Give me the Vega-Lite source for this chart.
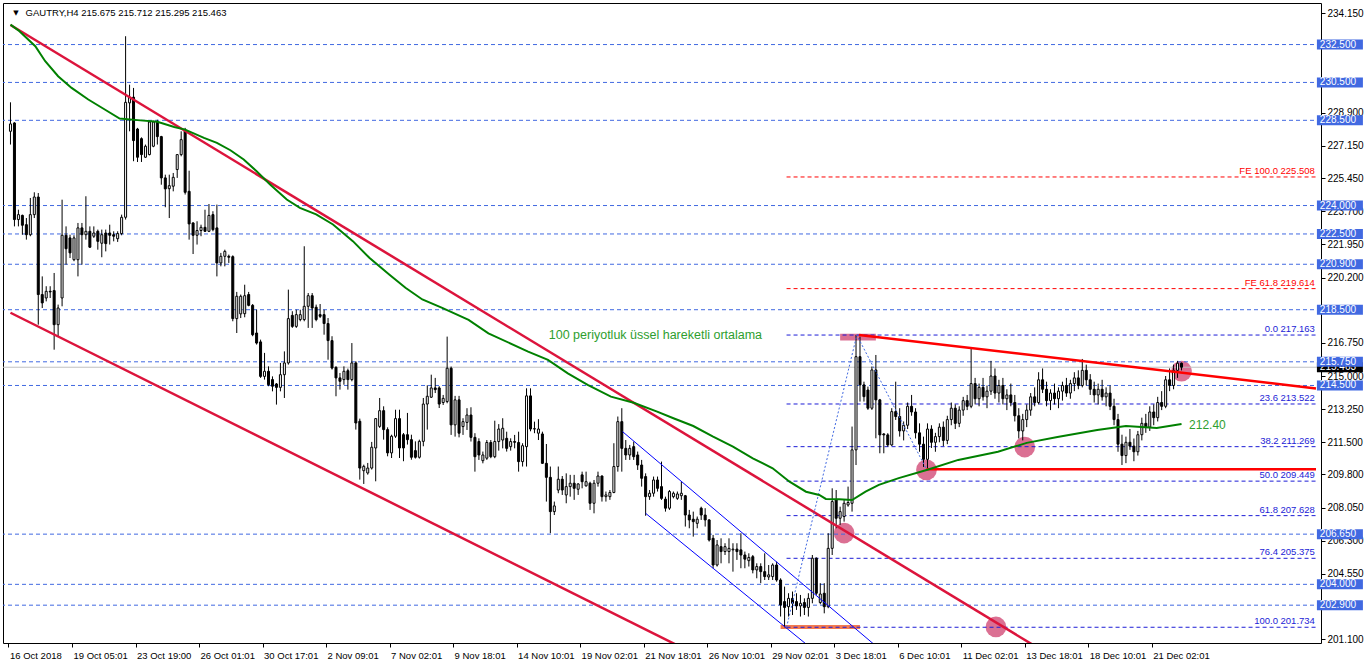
{
"$schema": "https://vega.github.io/schema/vega-lite/v6.json",
"width": 1318, "height": 640,
"autosize": {"type": "none"},
"padding": {"left": 3, "top": 3, "right": 45, "bottom": 22},
"background": "white",
"config": {
  "view": {"stroke": "black", "strokeWidth": 1},
  "axis": {"grid": false, "domain": false, "labelFont": "Liberation Sans", "labelColor": "black", "tickColor": "black", "titleOpacity": 0},
  "text": {"font": "Liberation Sans"}
},
"datasets": {
  "candles": [
{"i":0,"o":227.92,"h":229.45,"l":227.22,"c":228.31},
{"i":1,"o":228.36,"h":228.40,"l":222.90,"c":223.26},
{"i":2,"o":223.26,"h":223.78,"l":222.90,"c":223.52},
{"i":3,"o":223.48,"h":223.52,"l":222.46,"c":222.96},
{"i":4,"o":222.99,"h":223.34,"l":222.20,"c":222.46},
{"i":5,"o":222.46,"h":224.40,"l":222.38,"c":223.52},
{"i":6,"o":223.52,"h":224.70,"l":223.34,"c":224.45},
{"i":7,"o":224.45,"h":224.66,"l":217.71,"c":219.30},
{"i":8,"o":219.30,"h":220.26,"l":218.59,"c":218.86},
{"i":9,"o":219.12,"h":219.74,"l":218.94,"c":219.47},
{"i":10,"o":219.47,"h":219.74,"l":219.12,"c":219.44},
{"i":11,"o":219.51,"h":220.44,"l":216.39,"c":217.71},
{"i":12,"o":217.71,"h":218.77,"l":217.10,"c":218.59},
{"i":13,"o":219.12,"h":224.31,"l":218.68,"c":222.43},
{"i":14,"o":222.43,"h":222.90,"l":220.88,"c":221.72},
{"i":15,"o":222.29,"h":222.46,"l":221.23,"c":221.50},
{"i":16,"o":221.14,"h":222.43,"l":221.06,"c":222.29},
{"i":17,"o":221.14,"h":223.08,"l":220.26,"c":222.82},
{"i":18,"o":222.82,"h":223.08,"l":220.88,"c":222.46},
{"i":19,"o":222.46,"h":224.49,"l":222.20,"c":222.64},
{"i":20,"o":222.64,"h":222.90,"l":221.76,"c":221.80},
{"i":21,"o":222.38,"h":222.90,"l":222.29,"c":222.55},
{"i":22,"o":222.64,"h":222.73,"l":221.67,"c":222.11},
{"i":23,"o":222.01,"h":222.73,"l":221.27,"c":222.46},
{"i":24,"o":222.55,"h":222.73,"l":221.58,"c":221.99},
{"i":25,"o":222.55,"h":222.99,"l":221.94,"c":222.43},
{"i":26,"o":222.46,"h":222.64,"l":222.11,"c":222.38},
{"i":27,"o":222.25,"h":222.64,"l":222.08,"c":222.52},
{"i":28,"o":222.52,"h":223.52,"l":222.43,"c":223.38},
{"i":29,"o":223.38,"h":232.94,"l":223.26,"c":229.45},
{"i":30,"o":229.42,"h":230.38,"l":227.92,"c":229.72},
{"i":31,"o":229.72,"h":230.21,"l":226.34,"c":227.43},
{"i":32,"o":228.04,"h":228.10,"l":226.30,"c":226.55},
{"i":33,"o":227.53,"h":227.60,"l":226.30,"c":226.69},
{"i":34,"o":226.55,"h":227.22,"l":226.51,"c":227.13},
{"i":35,"o":226.69,"h":228.48,"l":226.65,"c":228.41},
{"i":36,"o":227.13,"h":228.48,"l":227.08,"c":228.41},
{"i":37,"o":228.41,"h":228.53,"l":227.22,"c":227.64},
{"i":38,"o":227.64,"h":227.68,"l":225.10,"c":225.46},
{"i":39,"o":225.46,"h":225.63,"l":223.91,"c":224.88},
{"i":40,"o":224.89,"h":225.63,"l":223.34,"c":225.05},
{"i":41,"o":225.02,"h":225.72,"l":224.75,"c":225.49},
{"i":42,"o":225.90,"h":226.72,"l":225.46,"c":226.69},
{"i":43,"o":226.69,"h":227.92,"l":226.60,"c":227.48},
{"i":44,"o":227.96,"h":228.10,"l":224.58,"c":224.70},
{"i":45,"o":224.75,"h":225.84,"l":222.20,"c":223.03},
{"i":46,"o":223.08,"h":223.12,"l":221.44,"c":222.43},
{"i":47,"o":222.43,"h":223.17,"l":221.94,"c":222.68},
{"i":48,"o":222.68,"h":222.99,"l":222.38,"c":222.85},
{"i":49,"o":222.85,"h":223.78,"l":222.61,"c":222.64},
{"i":50,"o":222.64,"h":224.08,"l":222.60,"c":223.48},
{"i":51,"o":223.52,"h":223.70,"l":222.64,"c":222.73},
{"i":52,"o":222.82,"h":224.05,"l":220.26,"c":220.97},
{"i":53,"o":220.97,"h":221.50,"l":220.79,"c":221.32},
{"i":54,"o":221.32,"h":221.67,"l":220.79,"c":221.58},
{"i":55,"o":221.32,"h":221.41,"l":220.97,"c":221.27},
{"i":56,"o":221.30,"h":221.37,"l":217.89,"c":218.03},
{"i":57,"o":218.03,"h":219.44,"l":217.27,"c":219.21},
{"i":58,"o":218.28,"h":219.30,"l":218.06,"c":219.21},
{"i":59,"o":218.29,"h":219.82,"l":218.10,"c":219.24},
{"i":60,"o":219.30,"h":219.44,"l":218.68,"c":218.73},
{"i":61,"o":218.73,"h":218.80,"l":217.10,"c":217.18},
{"i":62,"o":217.27,"h":218.50,"l":216.66,"c":216.74},
{"i":63,"o":216.80,"h":216.92,"l":214.90,"c":214.98},
{"i":64,"o":214.98,"h":216.22,"l":214.81,"c":215.25},
{"i":65,"o":215.25,"h":215.51,"l":214.46,"c":214.54},
{"i":66,"o":214.81,"h":214.98,"l":214.19,"c":214.46},
{"i":67,"o":214.58,"h":214.63,"l":213.49,"c":214.40},
{"i":68,"o":214.40,"h":215.69,"l":214.19,"c":215.07},
{"i":69,"o":215.07,"h":216.30,"l":213.84,"c":215.69},
{"i":70,"o":215.69,"h":219.56,"l":215.60,"c":218.03},
{"i":71,"o":218.20,"h":218.42,"l":217.54,"c":217.62},
{"i":72,"o":217.62,"h":218.50,"l":217.54,"c":218.24},
{"i":73,"o":217.98,"h":218.50,"l":217.89,"c":218.24},
{"i":74,"o":217.98,"h":221.85,"l":217.89,"c":218.68},
{"i":75,"o":218.68,"h":219.38,"l":217.54,"c":219.24},
{"i":76,"o":219.24,"h":219.38,"l":217.54,"c":218.59},
{"i":77,"o":218.63,"h":218.77,"l":217.89,"c":217.98},
{"i":78,"o":218.24,"h":218.80,"l":218.06,"c":218.15},
{"i":79,"o":218.24,"h":218.50,"l":217.18,"c":217.77},
{"i":80,"o":217.77,"h":218.06,"l":215.86,"c":216.87},
{"i":81,"o":216.87,"h":217.10,"l":215.34,"c":215.42},
{"i":82,"o":215.46,"h":215.51,"l":213.93,"c":214.90},
{"i":83,"o":214.90,"h":215.16,"l":214.28,"c":214.72},
{"i":84,"o":214.81,"h":215.51,"l":214.54,"c":215.25},
{"i":85,"o":215.28,"h":215.39,"l":214.28,"c":214.81},
{"i":86,"o":214.81,"h":216.74,"l":214.72,"c":215.69},
{"i":87,"o":215.69,"h":215.78,"l":212.17,"c":212.52},
{"i":88,"o":212.61,"h":212.75,"l":209.53,"c":210.14},
{"i":89,"o":210.00,"h":210.32,"l":209.30,"c":210.23},
{"i":90,"o":209.88,"h":210.41,"l":209.79,"c":210.14},
{"i":91,"o":210.14,"h":211.52,"l":210.06,"c":211.24},
{"i":92,"o":211.20,"h":212.78,"l":209.44,"c":212.75},
{"i":93,"o":212.34,"h":213.84,"l":212.26,"c":213.17},
{"i":94,"o":213.17,"h":213.40,"l":211.64,"c":212.17},
{"i":95,"o":212.17,"h":212.29,"l":210.76,"c":210.94},
{"i":96,"o":210.94,"h":211.90,"l":210.67,"c":211.82},
{"i":97,"o":211.82,"h":213.22,"l":211.73,"c":212.75},
{"i":98,"o":212.75,"h":213.22,"l":210.67,"c":211.20},
{"i":99,"o":211.90,"h":211.99,"l":210.50,"c":211.20},
{"i":100,"o":211.90,"h":213.05,"l":211.38,"c":211.64},
{"i":101,"o":211.64,"h":211.90,"l":210.58,"c":210.71},
{"i":102,"o":211.06,"h":211.55,"l":210.64,"c":210.71},
{"i":103,"o":210.71,"h":211.64,"l":210.64,"c":211.55},
{"i":104,"o":211.55,"h":213.84,"l":211.29,"c":213.52},
{"i":105,"o":213.52,"h":214.51,"l":212.17,"c":213.93},
{"i":106,"o":213.88,"h":215.07,"l":213.84,"c":214.37},
{"i":107,"o":214.37,"h":214.90,"l":214.10,"c":214.28},
{"i":108,"o":214.37,"h":214.46,"l":213.31,"c":213.52},
{"i":109,"o":213.60,"h":214.00,"l":213.47,"c":213.82},
{"i":110,"o":213.65,"h":217.08,"l":213.56,"c":215.41},
{"i":111,"o":215.41,"h":215.50,"l":211.89,"c":212.42},
{"i":112,"o":212.42,"h":213.95,"l":211.80,"c":213.74},
{"i":113,"o":213.74,"h":213.95,"l":211.76,"c":211.98},
{"i":114,"o":212.33,"h":212.77,"l":211.89,"c":212.59},
{"i":115,"o":212.55,"h":213.30,"l":212.15,"c":212.94},
{"i":116,"o":212.94,"h":213.35,"l":211.54,"c":211.76},
{"i":117,"o":211.76,"h":211.98,"l":209.95,"c":210.74},
{"i":118,"o":211.54,"h":211.71,"l":210.57,"c":210.83},
{"i":119,"o":210.53,"h":211.01,"l":210.39,"c":210.83},
{"i":120,"o":210.66,"h":211.62,"l":210.57,"c":211.49},
{"i":121,"o":211.49,"h":211.62,"l":210.66,"c":210.74},
{"i":122,"o":210.74,"h":212.64,"l":210.66,"c":211.54},
{"i":123,"o":211.54,"h":212.46,"l":211.06,"c":212.20},
{"i":124,"o":211.62,"h":212.77,"l":211.18,"c":212.24},
{"i":125,"o":211.71,"h":212.06,"l":211.01,"c":211.18},
{"i":126,"o":211.27,"h":211.71,"l":211.06,"c":211.54},
{"i":127,"o":211.54,"h":211.89,"l":211.18,"c":211.50},
{"i":128,"o":211.49,"h":212.06,"l":209.95,"c":210.48},
{"i":129,"o":210.48,"h":211.45,"l":210.22,"c":211.32},
{"i":130,"o":211.27,"h":214.35,"l":210.22,"c":213.95},
{"i":131,"o":213.95,"h":214.35,"l":212.08,"c":212.20},
{"i":132,"o":212.20,"h":212.59,"l":211.98,"c":212.22},
{"i":133,"o":211.98,"h":212.72,"l":211.62,"c":212.20},
{"i":134,"o":211.94,"h":212.06,"l":210.36,"c":210.39},
{"i":135,"o":210.39,"h":211.41,"l":208.37,"c":209.65},
{"i":136,"o":209.65,"h":210.22,"l":206.70,"c":207.84},
{"i":137,"o":207.84,"h":208.37,"l":207.66,"c":208.14},
{"i":138,"o":208.98,"h":210.22,"l":208.81,"c":209.55},
{"i":139,"o":209.55,"h":209.72,"l":208.72,"c":208.98},
{"i":140,"o":208.72,"h":209.86,"l":208.28,"c":209.16},
{"i":141,"o":209.16,"h":209.78,"l":208.63,"c":209.34},
{"i":142,"o":209.34,"h":209.78,"l":208.46,"c":209.07},
{"i":143,"o":209.02,"h":209.34,"l":208.72,"c":209.30},
{"i":144,"o":209.78,"h":209.95,"l":209.07,"c":209.42},
{"i":145,"o":209.20,"h":209.95,"l":209.16,"c":209.42},
{"i":146,"o":209.34,"h":209.42,"l":207.93,"c":208.28},
{"i":147,"o":208.28,"h":209.51,"l":207.75,"c":209.34},
{"i":148,"o":209.34,"h":209.95,"l":209.16,"c":209.72},
{"i":149,"o":209.72,"h":209.75,"l":208.37,"c":208.63},
{"i":150,"o":208.63,"h":208.90,"l":208.37,"c":208.72},
{"i":151,"o":208.63,"h":208.98,"l":208.46,"c":208.85},
{"i":152,"o":208.85,"h":211.45,"l":208.81,"c":210.22},
{"i":153,"o":210.22,"h":212.86,"l":209.95,"c":212.59},
{"i":154,"o":212.59,"h":213.30,"l":209.95,"c":211.18},
{"i":155,"o":211.18,"h":211.62,"l":210.57,"c":210.83},
{"i":156,"o":210.83,"h":211.36,"l":210.57,"c":211.18},
{"i":157,"o":211.27,"h":211.54,"l":210.57,"c":210.74},
{"i":158,"o":210.83,"h":211.01,"l":210.04,"c":210.30},
{"i":159,"o":210.30,"h":210.57,"l":209.16,"c":209.60},
{"i":160,"o":209.69,"h":209.86,"l":207.62,"c":208.63},
{"i":161,"o":208.63,"h":208.98,"l":208.46,"c":208.81},
{"i":162,"o":208.81,"h":209.69,"l":208.63,"c":209.51},
{"i":163,"o":209.51,"h":209.69,"l":208.90,"c":209.07},
{"i":164,"o":209.16,"h":210.48,"l":208.46,"c":208.54},
{"i":165,"o":208.50,"h":208.63,"l":207.84,"c":208.02},
{"i":166,"o":208.02,"h":208.98,"l":207.93,"c":208.90},
{"i":167,"o":208.63,"h":208.90,"l":208.54,"c":208.81},
{"i":168,"o":208.54,"h":208.90,"l":208.46,"c":208.77},
{"i":169,"o":208.68,"h":209.42,"l":208.46,"c":208.81},
{"i":170,"o":208.68,"h":208.72,"l":207.05,"c":207.66},
{"i":171,"o":207.66,"h":207.93,"l":206.96,"c":207.40},
{"i":172,"o":207.44,"h":207.84,"l":206.52,"c":207.31},
{"i":173,"o":207.22,"h":207.58,"l":206.96,"c":207.44},
{"i":174,"o":208.02,"h":208.10,"l":207.40,"c":207.66},
{"i":175,"o":207.66,"h":208.02,"l":207.05,"c":207.40},
{"i":176,"o":207.40,"h":207.44,"l":206.26,"c":206.34},
{"i":177,"o":206.43,"h":206.61,"l":204.85,"c":205.02},
{"i":178,"o":205.02,"h":206.34,"l":204.94,"c":206.08},
{"i":179,"o":205.99,"h":206.43,"l":205.11,"c":205.73},
{"i":180,"o":205.73,"h":206.17,"l":205.55,"c":205.99},
{"i":181,"o":205.73,"h":206.43,"l":205.11,"c":205.90},
{"i":182,"o":205.82,"h":206.17,"l":204.67,"c":205.86},
{"i":183,"o":205.86,"h":206.17,"l":205.29,"c":205.73},
{"i":184,"o":205.82,"h":206.70,"l":204.85,"c":205.55},
{"i":185,"o":205.55,"h":205.73,"l":204.85,"c":205.33},
{"i":186,"o":205.25,"h":205.64,"l":204.94,"c":205.42},
{"i":187,"o":205.46,"h":205.55,"l":204.58,"c":204.76},
{"i":188,"o":204.76,"h":205.11,"l":204.32,"c":204.94},
{"i":189,"o":204.94,"h":205.11,"l":204.06,"c":204.67},
{"i":190,"o":204.67,"h":205.64,"l":204.23,"c":204.41},
{"i":191,"o":204.39,"h":205.02,"l":204.23,"c":204.50},
{"i":192,"o":204.41,"h":205.11,"l":204.23,"c":205.02},
{"i":193,"o":205.02,"h":205.20,"l":204.14,"c":204.23},
{"i":194,"o":204.23,"h":204.32,"l":202.30,"c":202.91},
{"i":195,"o":203.09,"h":203.88,"l":201.73,"c":202.78},
{"i":196,"o":202.82,"h":203.53,"l":202.30,"c":203.26},
{"i":197,"o":203.26,"h":203.62,"l":202.38,"c":203.00},
{"i":198,"o":203.09,"h":203.53,"l":202.65,"c":202.86},
{"i":199,"o":202.86,"h":203.44,"l":202.30,"c":203.00},
{"i":200,"o":203.04,"h":203.26,"l":202.38,"c":202.78},
{"i":201,"o":202.78,"h":203.53,"l":202.30,"c":203.26},
{"i":202,"o":203.26,"h":205.55,"l":203.00,"c":205.38},
{"i":203,"o":205.38,"h":205.42,"l":203.44,"c":203.53},
{"i":204,"o":203.04,"h":204.06,"l":202.95,"c":203.49},
{"i":205,"o":203.53,"h":204.06,"l":202.47,"c":202.82},
{"i":206,"o":202.82,"h":206.70,"l":202.74,"c":205.90},
{"i":207,"o":205.90,"h":209.07,"l":205.55,"c":208.37},
{"i":208,"o":208.46,"h":208.98,"l":206.96,"c":207.49},
{"i":209,"o":207.49,"h":208.10,"l":207.14,"c":207.84},
{"i":210,"o":207.58,"h":208.46,"l":207.31,"c":208.28},
{"i":211,"o":208.19,"h":209.16,"l":208.10,"c":208.32},
{"i":212,"o":208.28,"h":212.33,"l":207.84,"c":211.10},
{"i":213,"o":211.10,"h":217.163,"l":210.30,"c":216.02},
{"i":214,"o":216.02,"h":217.08,"l":213.65,"c":214.53},
{"i":215,"o":214.53,"h":214.70,"l":213.65,"c":213.91},
{"i":216,"o":214.26,"h":214.44,"l":213.21,"c":213.30},
{"i":217,"o":213.30,"h":215.50,"l":213.21,"c":215.32},
{"i":218,"o":215.32,"h":216.11,"l":211.71,"c":213.74},
{"i":219,"o":213.74,"h":213.79,"l":210.92,"c":211.89},
{"i":220,"o":211.94,"h":211.98,"l":210.92,"c":211.89},
{"i":221,"o":211.89,"h":211.98,"l":211.27,"c":211.36},
{"i":222,"o":211.36,"h":213.30,"l":211.31,"c":213.12},
{"i":223,"o":213.12,"h":214.70,"l":212.68,"c":212.86},
{"i":224,"o":212.86,"h":213.30,"l":211.80,"c":212.10},
{"i":225,"o":212.10,"h":212.60,"l":211.60,"c":212.40},
{"i":226,"o":212.40,"h":213.60,"l":212.20,"c":213.40},
{"i":227,"o":213.40,"h":214.00,"l":212.90,"c":213.10},
{"i":228,"o":213.10,"h":213.30,"l":211.70,"c":212.00},
{"i":229,"o":212.00,"h":212.50,"l":211.00,"c":211.40},
{"i":230,"o":211.40,"h":211.80,"l":210.20,"c":210.60},
{"i":231,"o":210.60,"h":212.50,"l":210.08,"c":212.20},
{"i":232,"o":212.20,"h":212.40,"l":211.20,"c":211.50},
{"i":233,"o":211.50,"h":212.00,"l":211.00,"c":211.80},
{"i":234,"o":211.80,"h":212.50,"l":211.50,"c":212.30},
{"i":235,"o":212.30,"h":212.60,"l":211.30,"c":211.60},
{"i":236,"o":211.60,"h":212.90,"l":211.40,"c":212.70},
{"i":237,"o":212.70,"h":213.60,"l":212.40,"c":213.30},
{"i":238,"o":213.30,"h":213.50,"l":212.20,"c":212.50},
{"i":239,"o":212.50,"h":213.40,"l":212.30,"c":213.20},
{"i":240,"o":213.20,"h":213.90,"l":212.90,"c":213.70},
{"i":241,"o":213.70,"h":214.00,"l":213.20,"c":213.40},
{"i":242,"o":213.40,"h":216.50,"l":213.30,"c":214.60},
{"i":243,"o":214.60,"h":214.90,"l":213.50,"c":213.80},
{"i":244,"o":213.80,"h":214.60,"l":213.40,"c":214.40},
{"i":245,"o":214.40,"h":214.90,"l":213.70,"c":213.90},
{"i":246,"o":213.90,"h":214.50,"l":213.30,"c":214.20},
{"i":247,"o":214.20,"h":215.80,"l":214.00,"c":215.00},
{"i":248,"o":215.00,"h":215.40,"l":213.80,"c":214.10},
{"i":249,"o":214.10,"h":214.80,"l":213.60,"c":214.50},
{"i":250,"o":214.50,"h":214.90,"l":213.50,"c":213.80},
{"i":251,"o":213.80,"h":214.30,"l":213.20,"c":214.00},
{"i":252,"o":214.00,"h":214.60,"l":213.40,"c":213.60},
{"i":253,"o":213.60,"h":214.00,"l":212.60,"c":212.90},
{"i":254,"o":212.90,"h":213.30,"l":211.70,"c":212.10},
{"i":255,"o":212.10,"h":213.00,"l":211.60,"c":212.70},
{"i":256,"o":212.70,"h":213.50,"l":212.30,"c":213.20},
{"i":257,"o":213.20,"h":214.10,"l":212.90,"c":213.90},
{"i":258,"o":213.90,"h":214.40,"l":213.40,"c":213.60},
{"i":259,"o":213.60,"h":215.20,"l":213.50,"c":214.80},
{"i":260,"o":214.80,"h":215.40,"l":214.10,"c":214.30},
{"i":261,"o":214.30,"h":214.70,"l":213.40,"c":213.70},
{"i":262,"o":213.70,"h":214.30,"l":213.20,"c":214.10},
{"i":263,"o":214.10,"h":214.60,"l":213.50,"c":213.80},
{"i":264,"o":213.80,"h":214.40,"l":213.30,"c":214.20},
{"i":265,"o":214.20,"h":214.70,"l":213.70,"c":214.50},
{"i":266,"o":214.50,"h":214.90,"l":213.90,"c":214.10},
{"i":267,"o":214.10,"h":214.80,"l":213.80,"c":214.60},
{"i":268,"o":214.60,"h":215.20,"l":214.20,"c":214.90},
{"i":269,"o":214.90,"h":215.30,"l":214.30,"c":214.50},
{"i":270,"o":214.50,"h":215.90,"l":214.40,"c":215.30},
{"i":271,"o":215.30,"h":215.60,"l":214.50,"c":214.80},
{"i":272,"o":214.80,"h":215.10,"l":214.00,"c":214.30},
{"i":273,"o":214.30,"h":214.70,"l":213.60,"c":214.00},
{"i":274,"o":214.00,"h":214.60,"l":213.50,"c":214.30},
{"i":275,"o":214.30,"h":214.80,"l":213.70,"c":213.90},
{"i":276,"o":213.90,"h":214.40,"l":213.40,"c":214.10},
{"i":277,"o":214.10,"h":214.50,"l":213.20,"c":213.40},
{"i":278,"o":213.40,"h":213.80,"l":212.40,"c":212.70},
{"i":279,"o":212.70,"h":213.00,"l":211.00,"c":211.40},
{"i":280,"o":211.40,"h":211.90,"l":210.30,"c":210.80},
{"i":281,"o":210.80,"h":211.80,"l":210.40,"c":211.50},
{"i":282,"o":211.50,"h":212.20,"l":211.10,"c":211.30},
{"i":283,"o":211.30,"h":211.70,"l":210.50,"c":211.00},
{"i":284,"o":211.00,"h":212.10,"l":210.80,"c":211.90},
{"i":285,"o":211.90,"h":212.80,"l":211.60,"c":212.50},
{"i":286,"o":212.50,"h":213.00,"l":212.00,"c":212.30},
{"i":287,"o":212.30,"h":213.40,"l":212.10,"c":213.10},
{"i":288,"o":213.10,"h":213.50,"l":212.40,"c":212.80},
{"i":289,"o":212.80,"h":213.90,"l":212.60,"c":213.60},
{"i":290,"o":213.60,"h":214.20,"l":213.20,"c":213.40},
{"i":291,"o":213.40,"h":215.00,"l":213.30,"c":214.80},
{"i":292,"o":214.80,"h":215.40,"l":214.20,"c":214.50},
{"i":293,"o":214.50,"h":215.60,"l":214.30,"c":215.30},
{"i":294,"o":215.30,"h":215.80,"l":214.90,"c":215.675},
{"i":295,"o":215.675,"h":215.712,"l":215.295,"c":215.463}
  ],
  "levels": [
    {"p":232.5,"t":"232.500"},{"p":230.5,"t":"230.500"},{"p":228.5,"t":"228.500"},
    {"p":224.0,"t":"224.000"},{"p":222.5,"t":"222.500"},{"p":220.9,"t":"220.900"},
    {"p":218.5,"t":"218.500"},{"p":215.75,"t":"215.750"},{"p":214.5,"t":"214.500"},
    {"p":206.65,"t":"206.650"},{"p":204.0,"t":"204.000"},{"p":202.9,"t":"202.900"}
  ],
  "fib": [
    {"p":217.163,"t":"0.0 217.163"},{"p":213.522,"t":"23.6 213.522"},{"p":211.269,"t":"38.2 211.269"},
    {"p":209.449,"t":"50.0 209.449"},{"p":207.628,"t":"61.8 207.628"},{"p":205.375,"t":"76.4 205.375"},
    {"p":201.734,"t":"100.0 201.734"}
  ],
  "fe": [{"p":225.508,"t":"FE 100.0 225.508"},{"p":219.614,"t":"FE 61.8 219.614"}],
  "crimson": [
    {"g":"a","i":0,"p":233.53},{"g":"a","i":258,"p":200.75},
    {"g":"b","i":0,"p":218.34},{"g":"b","i":170,"p":200.57}
  ],
  "redlines": [
    {"g":"t","i":213.75,"p":217.17},{"g":"t","i":328.875,"p":214.34},
    {"g":"h","i":230.75,"p":210.08},{"g":"h","i":328.875,"p":210.08}
  ],
  "bluech": [
    {"g":"u","i":154.2,"p":212.06},{"g":"u","i":218,"p":200.75},
    {"g":"d","i":160,"p":207.75},{"g":"d","i":201,"p":200.75}
  ],
  "fibd": [{"i":195.5,"p":201.734},{"i":213.2,"p":217.163},{"i":230.75,"p":210.079}],
  "ema": [
    {"i":0,"p":233.55},{"i":2,"p":233.25},{"i":6.25,"p":232.41},{"i":8.75,"p":231.62},{"i":12,"p":230.83},
    {"i":15.4,"p":230.21},{"i":19.6,"p":229.60},{"i":23.75,"p":229.07},{"i":27.5,"p":228.59},{"i":32,"p":228.51},
    {"i":37,"p":228.42},{"i":41.25,"p":228.15},{"i":44,"p":228.01},{"i":48.75,"p":227.57},{"i":52,"p":227.31},
    {"i":55.4,"p":226.92},{"i":58.75,"p":226.43},{"i":62,"p":225.81},{"i":65.4,"p":225.11},{"i":69.6,"p":224.32},
    {"i":72.9,"p":223.88},{"i":77,"p":223.53},{"i":81.25,"p":223.00},{"i":86.25,"p":222.12},{"i":90.4,"p":221.24},
    {"i":95.4,"p":220.36},{"i":99.5,"p":219.66},{"i":103.75,"p":219.04},{"i":108.75,"p":218.60},{"i":115.4,"p":217.96},
    {"i":120.4,"p":217.25},{"i":130.4,"p":216.29},{"i":135.4,"p":215.85},{"i":140.4,"p":215.14},{"i":145.4,"p":214.53},
    {"i":151.25,"p":213.91},{"i":157,"p":213.59},{"i":162.9,"p":213.12},{"i":167,"p":212.77},{"i":172,"p":212.36},
    {"i":177,"p":211.80},{"i":182,"p":211.27},{"i":187,"p":210.65},{"i":192,"p":210.13},{"i":196.25,"p":209.42},
    {"i":200.4,"p":208.89},{"i":203.75,"p":208.72},{"i":205.4,"p":208.51},{"i":208.75,"p":208.49},{"i":212,"p":208.45},
    {"i":215.4,"p":208.89},{"i":218.75,"p":209.25},{"i":223.75,"p":209.61},{"i":231,"p":210.05},{"i":238.75,"p":210.57},
    {"i":248.75,"p":211.00},{"i":256,"p":211.47},{"i":263.75,"p":211.78},{"i":273.75,"p":212.15},{"i":281,"p":212.36},
    {"i":288.75,"p":212.25},{"i":295,"p":212.46}
  ],
  "circles": [
    {"i":210,"p":206.71},{"i":230.75,"p":210.04},{"i":255.5,"p":211.25},{"i":248.25,"p":201.75},{"i":295,"p":215.26}
  ],
  "zones": [
    {"k":"peak","i":209,"i2":218,"p":217.23,"p2":216.88},
    {"k":"low","i":194,"i2":214,"p":201.85,"p2":201.64}
  ]
},
"layer": [
  {
    "data": {"name": "zones"},
    "mark": {"type": "rect"},
    "encoding": {
      "x": {"field": "i", "type": "quantitative"},
      "x2": {"field": "i2"},
      "y": {"field": "p", "type": "quantitative"},
      "y2": {"field": "p2"},
      "color": {"field": "k", "type": "nominal", "scale": {"domain": ["peak","low"], "range": ["#DB7093","#F47A50"]}, "legend": null}
    }
  },
  {
    "data": {"name": "circles"},
    "mark": {"type": "point", "filled": true, "opacity": 1, "size": 430, "color": "#DB7093"},
    "encoding": {
      "x": {"field": "i", "type": "quantitative"},
      "y": {"field": "p", "type": "quantitative"}
    }
  },
  {
    "data": {"name": "levels"},
    "mark": {"type": "rule", "color": "#4169E1", "strokeWidth": 1, "strokeDash": [4, 3]},
    "encoding": {"y": {"field": "p", "type": "quantitative"}}
  },
  {
    "data": {"values": [{}]},
    "mark": {"type": "rule", "color": "#C0C0C0", "strokeWidth": 1},
    "encoding": {"y": {"datum": 215.463}}
  },
  {
    "data": {"name": "fib"},
    "mark": {"type": "rule", "color": "#1C1CD6", "strokeWidth": 1, "strokeDash": [4, 3]},
    "encoding": {"x": {"datum": 195.5}, "x2": {"datum": 328.875}, "y": {"field": "p", "type": "quantitative"}}
  },
  {
    "data": {"name": "fe"},
    "mark": {"type": "rule", "color": "#FF0000", "strokeWidth": 1, "strokeDash": [4, 3]},
    "encoding": {"x": {"datum": 195.5}, "x2": {"datum": 328.875}, "y": {"field": "p", "type": "quantitative"}}
  },
  {
    "data": {"name": "fib"},
    "mark": {"type": "text", "align": "right", "baseline": "alphabetic", "dy": -3, "fontSize": 9.5, "color": "#1C1CD6"},
    "encoding": {"x": {"datum": 328.6}, "y": {"field": "p", "type": "quantitative"}, "text": {"field": "t"}}
  },
  {
    "data": {"name": "fe"},
    "mark": {"type": "text", "align": "right", "baseline": "alphabetic", "dy": -3, "fontSize": 9.5, "color": "#FF0000"},
    "encoding": {"x": {"datum": 328.6}, "y": {"field": "p", "type": "quantitative"}, "text": {"field": "t"}}
  },
  {
    "data": {"name": "candles"},
    "mark": {"type": "rule", "color": "black", "strokeWidth": 1},
    "encoding": {
      "x": {"field": "i", "type": "quantitative", "title": null,
        "scale": {"domain": [-0.625, 328.875], "nice": false, "zero": false},
        "axis": {"orient": "bottom", "title": null, "values": [0,16,32,48,64,80,96,112,128,144,160,176,192,208,224,240,256,272,288],
          "labelExpr": "['16 Oct 2018','19 Oct 05:01','23 Oct 19:00','26 Oct 01:01','30 Oct 17:01','2 Nov 09:01','7 Nov 02:01','9 Nov 18:01','14 Nov 10:01','19 Nov 02:01','21 Nov 18:01','26 Nov 10:01','29 Nov 02:01','3 Dec 18:01','6 Dec 10:01','11 Dec 02:01','13 Dec 18:01','18 Dec 10:01','21 Dec 02:01'][round(datum.value/16)]",
          "labelAlign": "left", "labelBaseline": "top", "labelFontSize": 9.5, "labelPadding": 3, "tickSize": 4, "tickOffset": -2, "labelOffset": 1, "labelFlush": false, "labelOverlap": false}},
      "y": {"field": "l", "type": "quantitative", "title": null,
        "scale": {"domain": [200.903, 234.694], "nice": false, "zero": false},
        "axis": {"orient": "right", "title": null, "values": [234.15,228.9,227.15,225.45,223.7,221.95,220.2,216.75,215.0,213.25,211.5,209.8,208.05,206.3,204.55,201.1],
          "format": ".3f", "labelFontSize": 10, "labelPadding": 2, "tickSize": 4, "labelBaseline": "middle", "labelOverlap": false, "labelFlush": false}},
      "y2": {"field": "h"}
    }
  },
  {
    "data": {"name": "candles"},
    "mark": {"type": "bar", "width": 2, "stroke": "black", "strokeWidth": 1},
    "encoding": {
      "x": {"field": "i", "type": "quantitative"},
      "y": {"field": "o", "type": "quantitative"},
      "y2": {"field": "c"},
      "fill": {"condition": {"test": "datum.c >= datum.o", "value": "white"}, "value": "black"}
    }
  },
  {
    "data": {"name": "crimson"},
    "mark": {"type": "line", "color": "#DC143C", "strokeWidth": 2.5, "clip": true},
    "encoding": {"x": {"field": "i", "type": "quantitative"}, "y": {"field": "p", "type": "quantitative"}, "detail": {"field": "g"}}
  },
  {
    "data": {"name": "bluech"},
    "mark": {"type": "line", "color": "#0000FF", "strokeWidth": 1, "clip": true},
    "encoding": {"x": {"field": "i", "type": "quantitative"}, "y": {"field": "p", "type": "quantitative"}, "detail": {"field": "g"}}
  },
  {
    "data": {"name": "redlines"},
    "mark": {"type": "line", "color": "#FF0000", "strokeWidth": 2.5, "clip": true},
    "encoding": {"x": {"field": "i", "type": "quantitative"}, "y": {"field": "p", "type": "quantitative"}, "detail": {"field": "g"}}
  },
  {
    "data": {"name": "fibd"},
    "mark": {"type": "line", "color": "#4169E1", "strokeWidth": 1, "strokeDash": [2, 2]},
    "encoding": {"x": {"field": "i", "type": "quantitative"}, "y": {"field": "p", "type": "quantitative"}}
  },
  {
    "data": {"name": "ema"},
    "mark": {"type": "line", "color": "#008000", "strokeWidth": 2},
    "encoding": {"x": {"field": "i", "type": "quantitative"}, "y": {"field": "p", "type": "quantitative"}}
  },
  {
    "data": {"values": [{"t": "100 periyotluk üssel hareketli ortalama"}]},
    "mark": {"type": "text", "align": "left", "baseline": "middle", "fontSize": 12.5, "color": "#2E9E2E"},
    "encoding": {"x": {"datum": 135.6}, "y": {"datum": 217.16}, "text": {"field": "t"}}
  },
  {
    "data": {"values": [{"t": "212.40"}]},
    "mark": {"type": "text", "align": "left", "baseline": "middle", "fontSize": 12, "color": "#2E9E2E"},
    "encoding": {"x": {"datum": 296.9}, "y": {"datum": 212.41}, "text": {"field": "t"}}
  },
  {
    "data": {"values": [{"t": "GAUTRY,H4  215.675 215.712 215.295 215.463"}]},
    "mark": {"type": "text", "align": "left", "baseline": "middle", "fontSize": 9.5, "color": "black"},
    "encoding": {"x": {"datum": 3.8}, "y": {"datum": 234.19}, "text": {"field": "t"}}
  },
  {
    "data": {"values": [{"t": "▼"}]},
    "mark": {"type": "text", "align": "center", "baseline": "middle", "fontSize": 7, "font": "DejaVu Sans", "color": "black"},
    "encoding": {"x": {"datum": 1.4}, "y": {"datum": 234.19}, "text": {"field": "t"}}
  },
  {
    "data": {"values": [{}]},
    "mark": {"type": "tick", "orient": "horizontal", "size": 46, "thickness": 10, "color": "black", "opacity": 1},
    "encoding": {"x": {"datum": 334.9}, "y": {"datum": 215.463}}
  },
  {
    "data": {"values": [{"t": "215.463"}]},
    "mark": {"type": "text", "align": "center", "baseline": "middle", "fontSize": 10, "color": "white"},
    "encoding": {"x": {"datum": 334.4}, "y": {"datum": 215.463}, "text": {"field": "t"}}
  },
  {
    "data": {"name": "levels"},
    "mark": {"type": "tick", "orient": "horizontal", "size": 46, "thickness": 10, "color": "#4169E1", "opacity": 1},
    "encoding": {"x": {"datum": 334.9}, "y": {"field": "p", "type": "quantitative"}}
  },
  {
    "data": {"name": "levels"},
    "mark": {"type": "text", "align": "center", "baseline": "middle", "fontSize": 10, "color": "white"},
    "encoding": {"x": {"datum": 334.4}, "y": {"field": "p", "type": "quantitative"}, "text": {"field": "t"}}
  }
]
}
